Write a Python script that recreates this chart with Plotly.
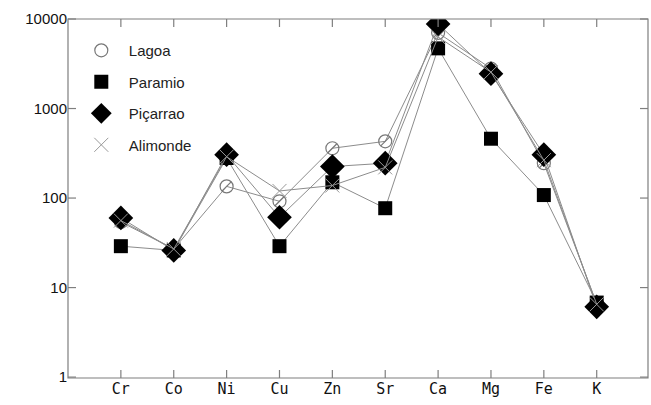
import math
import plotly.graph_objects as go

elements = ["Cr", "Co", "Ni", "Cu", "Zn", "Sr", "Ca", "Mg", "Fe", "K"]
lagoa = [54, 27, 135, 92, 360, 430, 7000, 2800, 245, 6.6]
paramio = [29, 26, 280, 29, 150, 77, 4700, 460, 108, 6.8]
picarrao = [60, 26, 305, 61, 225, 245, 8800, 2450, 305, 6.1]
alimonde = [56, 27, 290, 120, 138, 220, 6300, 2550, 265, 6.5]
y_ticks = [1, 10, 100, 1000, 10000]

x = list(range(len(elements)))
line_gray = "#8c8c8c"
frame_gray = "#7f7f7f"
sans = "Liberation Sans, Arial, sans-serif"

W, H = 651, 405
M = dict(l=68, r=3, t=19, b=27)
x_range = [-1, 9.97]
y_range = [-0.01, 4]
tick_px = 8

series = [
    ("Lagoa", lagoa, dict(symbol="circle-open", size=13, color="#777777", line=dict(width=1.2, color="#777777"))),
    ("Paramio", paramio, dict(symbol="square", size=14, color="black")),
    ("Piçarrao", picarrao, dict(symbol="diamond", size=19, color="black")),
    ("Alimonde", alimonde, dict(symbol="x-thin-open", size=14, color="#999999", line=dict(width=1, color="#999999"))),
]

fig = go.Figure()
for i, (name, vals, mk) in enumerate(series):
    fig.add_trace(go.Scatter(
        x=x, y=vals, mode="lines", showlegend=False, hoverinfo="skip",
        line=dict(color=line_gray, width=1), legendgroup=str(i),
    ))
    fig.add_trace(go.Scatter(
        x=x, y=vals, name=name, mode="markers", marker=mk, legendgroup=str(i),
    ))
    if name == "Lagoa":
        fig.add_trace(go.Scatter(
            x=x, y=vals, mode="markers", showlegend=False, legendgroup=str(i),
            marker=dict(symbol="line-ne", size=9, color="#777777",
                        line=dict(width=1.2, color="#777777")),
        ))

# frame and inward ticks (drawn as shapes in paper coordinates)
plot_w = W - M["l"] - M["r"]
plot_h = H - M["t"] - M["b"]
tx = tick_px / plot_w
ty = tick_px / plot_h
shape_line = dict(color=frame_gray, width=1.2)
shapes = [dict(type="rect", xref="paper", yref="paper", x0=0, x1=1, y0=0, y1=1,
               line=shape_line, layer="above")]
for i in x:
    px = (i - x_range[0]) / (x_range[1] - x_range[0])
    shapes.append(dict(type="line", xref="paper", yref="paper", x0=px, x1=px, y0=0, y1=ty, line=shape_line))
    shapes.append(dict(type="line", xref="paper", yref="paper", x0=px, x1=px, y0=1, y1=1 - ty, line=shape_line))
for v in y_ticks:
    py = (math.log10(v) - y_range[0]) / (y_range[1] - y_range[0])
    shapes.append(dict(type="line", xref="paper", yref="paper", x0=0, x1=tx, y0=py, y1=py, line=shape_line))
    shapes.append(dict(type="line", xref="paper", yref="paper", x0=1, x1=1 - tx, y0=py, y1=py, line=shape_line))

axis_common = dict(ticks="", showline=False, showgrid=False, zeroline=False)

fig.update_layout(
    template="none",
    width=W, height=H,
    margin=M,
    paper_bgcolor="white", plot_bgcolor="white",
    showlegend=True,
    shapes=shapes,
    legend=dict(
        x=0.01, y=0.958, xanchor="left", yanchor="top",
        font=dict(family=sans, size=15, color="#222222"),
        traceorder="grouped", tracegroupgap=9, itemwidth=45,
        bgcolor="rgba(0,0,0,0)",
    ),
    xaxis=dict(
        range=x_range,
        tickmode="array", tickvals=x, ticktext=elements,
        tickfont=dict(family="DejaVu Sans Mono, monospace", size=15, color="#111111"),
        **axis_common,
    ),
    yaxis=dict(
        type="log", range=y_range,
        tickmode="array", tickvals=y_ticks, ticktext=[str(v) for v in y_ticks],
        tickfont=dict(family=sans, size=15, color="#111111"),
        **axis_common,
    ),
)

fig.write_html("out.html", config={"displayModeBar": False},
               post_script="document.body.style.margin='0';")
